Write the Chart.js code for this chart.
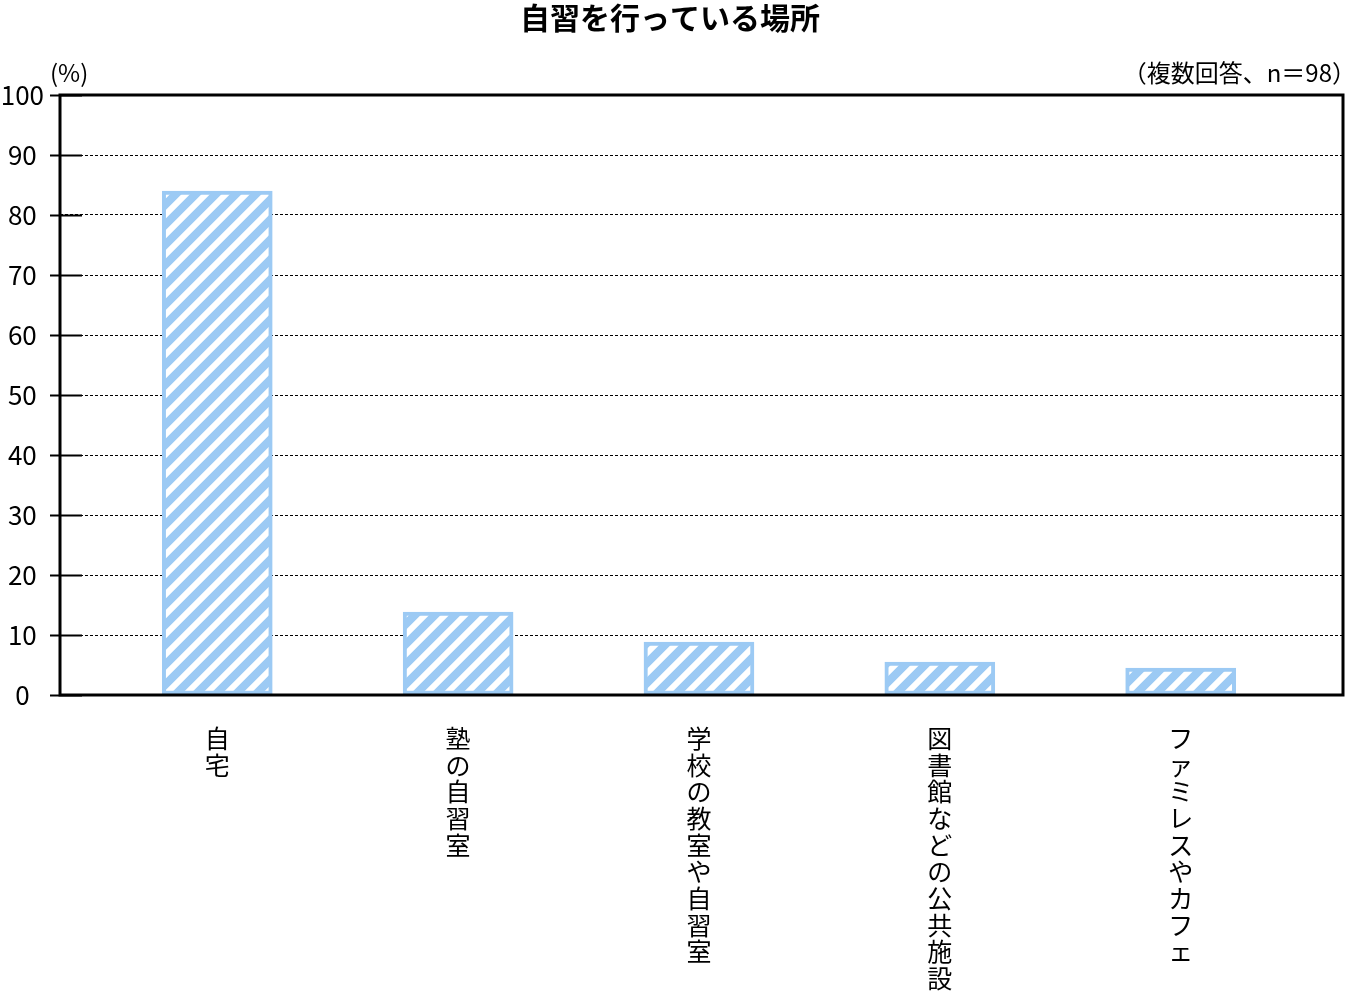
<!DOCTYPE html>
<html lang="ja">
<head>
<meta charset="utf-8">
<script src="https://cdn.jsdelivr.net/npm/chart.js@4/dist/chart.umd.min.js"></script>
<style>
  html, body { margin: 0; padding: 0; background: #fff; }
  #wrap { width: 1346px; height: 1001px; }
</style>
</head>
<body>
<div id="wrap"><canvas id="placeChart"></canvas></div>
<script>
// Chart data
const places = ['自宅', '塾の自習室', '学校の教室や自習室', '図書館などの公共施設', 'ファミレスやカフェ'];
const percents = [84.0, 13.8, 8.8, 5.5, 4.5];
const yTicks = [0, 10, 20, 30, 40, 50, 60, 70, 80, 90, 100];

const FONT = "'Noto Sans CJK JP', 'Noto Sans', sans-serif";
const BLUE = '#9ccaf4';

// Diagonal stripe fill for the bars
function makeStripes() {
    const c = document.createElement('canvas');
    c.width = 20;
    c.height = 20;
    const g = c.getContext('2d');
    g.fillStyle = BLUE;
    g.fillRect(0, 0, 20, 20);
    g.strokeStyle = '#ffffff';
    g.lineWidth = 6;
    g.beginPath();
    g.moveTo(-5, 5); g.lineTo(5, -5);
    g.moveTo(-5, 25); g.lineTo(25, -5);
    g.moveTo(15, 25); g.lineTo(25, 15);
    g.stroke();
    return g.createPattern(c, 'repeat');
}

// Titles, frame and solid tick marks
const framePlugin = {
    id: 'frame',
    afterDraw(chart) {
        const ctx = chart.ctx;
        const a = chart.chartArea;
        const y = chart.scales.y;
        ctx.save();
        ctx.fillStyle = '#000';
        ctx.textBaseline = 'middle';
        ctx.font = 'bold 30px ' + FONT;
        ctx.textAlign = 'center';
        ctx.fillText('自習を行っている場所', 670, 18);
        ctx.font = '24px ' + FONT;
        ctx.textAlign = 'left';
        ctx.fillText('(%)', 50, 73);
        ctx.textAlign = 'right';
        ctx.fillText('（複数回答、n＝98）', 1356, 73);

        ctx.strokeStyle = '#000';
        ctx.lineWidth = 2;
        yTicks.forEach(v => {
            const py = Math.round(y.getPixelForValue(v)) + 0.5;
            ctx.beginPath();
            ctx.moveTo(a.left - 10, py);
            ctx.lineTo(a.left + 22, py);
            ctx.stroke();
        });

        ctx.lineWidth = 3;
        ctx.strokeRect(a.left, a.top, a.right - a.left, a.bottom - a.top);
        ctx.restore();
    }
};

const ctx = document.getElementById('placeChart').getContext('2d');

new Chart(ctx, {
    type: 'bar',
    data: {
        datasets: [{
            data: percents.map((v, i) => ({ x: i, y: v })),
            backgroundColor: makeStripes(),
            borderColor: BLUE,
            borderWidth: 4,
            borderSkipped: false,
            barThickness: 110
        }]
    },
    options: {
        responsive: true,
        maintainAspectRatio: false,
        animation: false,
        layout: { padding: { top: 95, right: 3, left: 0, bottom: 0 } },
        plugins: {
            legend: { display: false },
            title: { display: false },
            tooltip: { enabled: false }
        },
        scales: {
            x: {
                type: 'linear',
                offset: false,
                min: -0.653,
                max: 4.674,
                afterBuildTicks: s => { s.ticks = places.map((_, i) => ({ value: i })); },
                afterFit: s => { s.height = 306; },
                grid: { display: false, offset: false },
                border: { display: false },
                ticks: {
                    autoSkip: false,
                    maxRotation: 0,
                    padding: 22,
                    color: '#000',
                    font: { family: FONT, size: 25, lineHeight: '26.7px' },
                    callback: v => places[v] ? places[v].split('') : ''
                }
            },
            y: {
                min: 0,
                max: 100,
                afterBuildTicks: s => { s.ticks = yTicks.map(v => ({ value: v })); },
                afterFit: s => { s.width = 60; },
                grid: {
                    color: '#000',
                    lineWidth: 1,
                    drawTicks: false
                },
                border: { display: false, dash: [3, 2] },
                ticks: {
                    crossAlign: 'center',
                    padding: 16,
                    color: '#000',
                    font: { family: FONT, size: 26 }
                }
            }
        }
    },
    plugins: [framePlugin]
});
</script>
</body>
</html>
